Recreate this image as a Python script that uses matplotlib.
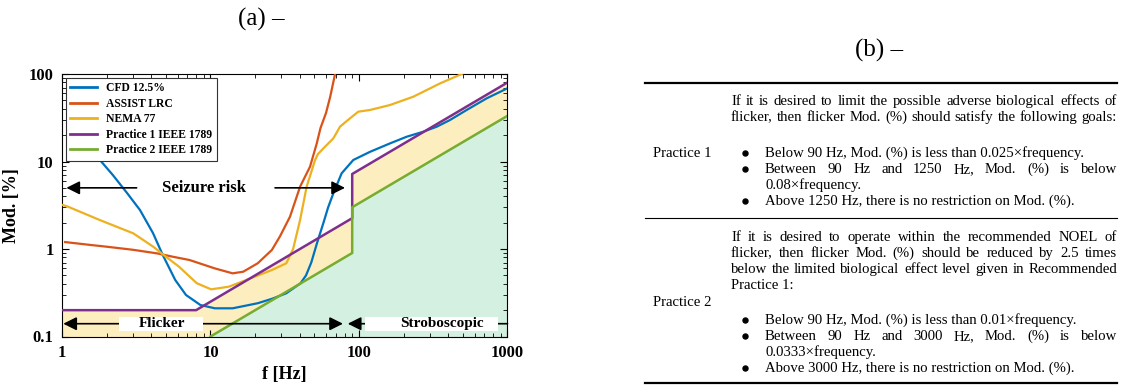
import matplotlib.pyplot as plt
from matplotlib.patches import Rectangle
from matplotlib.lines import Line2D
from matplotlib.ticker import NullFormatter

plt.rcParams['font.family'] = ['Liberation Serif', 'DejaVu Serif']

# measured modulation thresholds vs. frequency (Hz, Mod. %)
cfd_f = [1.25, 1.5, 1.8, 2.2, 2.74, 3.35, 4.1, 4.77, 5.79, 6.84, 8.55, 10.7, 14.1,
         20.8, 26, 32.4, 40.4, 44, 47.7, 52, 57.5, 62, 67.2, 76.4, 91.5, 118.6, 161.7,
         209.6, 271, 334, 410, 531, 724, 1000]
cfd_mod = [26, 14.3, 10.4, 7.0, 4.37, 2.79, 1.52, 0.853, 0.442, 0.298, 0.229, 0.21, 0.21,
           0.24, 0.27, 0.312, 0.406, 0.5, 0.7, 1.15, 1.97, 3.0, 4.33, 7.33, 10.4, 12.9, 16.1,
           19.2, 21.9, 25, 29.8, 38.8, 52.7, 68.7]

assist_f = [1.05, 1.5, 2.02, 3.0, 4.39, 5.5, 7.23, 10.7, 14.1, 16.6, 20.8, 25.9, 29.4,
            34.3, 40.1, 46.8, 51.9, 55, 60, 64, 69, 72]
assist_mod = [1.2, 1.12, 1.06, 0.98, 0.89, 0.82, 0.748, 0.60, 0.527, 0.55, 0.687, 0.975, 1.4,
              2.34, 5.15, 8.73, 16, 24, 36, 55, 100, 125]

nema_f = [1.0, 1.1, 1.8, 3.02, 4.12, 4.77, 6.12, 8.09, 10.1, 13.3, 18.6, 25.9, 32.4, 36,
          40.1, 44.4, 50.6, 53, 57.5, 67.2, 74.5, 82.6, 98.9, 118.6, 161.7, 232, 351, 492, 560]
nema_mod = [3.2, 3.04, 2.14, 1.51, 1.06, 0.87, 0.63, 0.406, 0.346, 0.371, 0.462, 0.575, 0.687, 1.0,
            2.14, 5.15, 10.4, 12.2, 14.1, 18.4, 25, 29, 37.1, 38.8, 44.2, 55, 78, 100, 115]

# IEEE 1789 recommended practices
p1_f = [1, 8, 90, 90, 1000]
p1_mod = [0.2, 0.2, 2.25, 7.2, 80]
p2_f = [10, 90, 90, 1000]
p2_mod = [0.1, 0.9, 3.0, 33.3]

labels = ['CFD 12.5%', 'ASSIST LRC', 'NEMA 77', 'Practice 1 IEEE 1789', 'Practice 2 IEEE 1789']
colors = ['#0072BD', '#D95319', '#EDB120', '#7E2F8E', '#77AC30']

W, H = 1123, 385
fig = plt.figure(figsize=(W / 100, H / 100), dpi=100)


def fx(x):
    return x / W


def fy(y):
    return 1 - y / H


ax = fig.add_axes([fx(62), fy(336.5), (507.5 - 62) / W, (336.5 - 74) / H])
ax.set_xscale('log')
ax.set_yscale('log')
ax.set_xlim(1, 1000)
ax.set_ylim(0.1, 100)

ax.fill_between(p1_f, p1_mod, 0.1, color='#FDEEC0', lw=0, zorder=1)
ax.fill_between(p2_f, p2_mod, 0.1, color='#D3F0E0', lw=0, zorder=1)

ax.plot(cfd_f, cfd_mod, color=colors[0], lw=1.6, label=labels[0], zorder=3)
ax.plot(assist_f, assist_mod, color=colors[1], lw=1.6, label=labels[1], zorder=3)
ax.plot(nema_f, nema_mod, color=colors[2], lw=1.6, label=labels[2], zorder=3)
ax.plot(p1_f, p1_mod, color=colors[3], lw=1.8, label=labels[3], zorder=4)
ax.plot(p2_f, p2_mod, color=colors[4], lw=1.8, label=labels[4], zorder=4)

# seizure risk arrows
arrow = dict(arrowstyle='-|>', color='k', lw=1.2, mutation_scale=20, shrinkA=0, shrinkB=0)
ax.annotate('', xy=(1.07, 5.0), xytext=(3.18, 5.0), arrowprops=arrow, zorder=5)
ax.annotate('', xy=(80.5, 5.0), xytext=(27.2, 5.0), arrowprops=arrow, zorder=5)
ax.text(9.0, 5.0, 'Seizure risk', fontsize=12, fontweight='bold', ha='center', va='center')

# flicker / stroboscopic ranges
ax.annotate('', xy=(1.02, 0.14), xytext=(78, 0.14),
            arrowprops=dict(arrowstyle='<|-|>', color='k', lw=1.2, mutation_scale=20,
                            shrinkA=0, shrinkB=0), zorder=5)
ax.annotate('', xy=(84, 0.14), xytext=(1000, 0.14), arrowprops=arrow, zorder=5)
ax.add_patch(Rectangle((2.42, 0.116), 8.9 - 2.42, 0.167 - 0.116, fc='white', ec='none', zorder=6))
ax.add_patch(Rectangle((109.7, 0.116), 863 - 109.7, 0.167 - 0.116, fc='white', ec='none', zorder=6))
ax.text(4.7, 0.14, 'Flicker', fontsize=11, fontweight='bold', ha='center', va='center', zorder=7)
ax.text(360, 0.14, 'Stroboscopic', fontsize=11, fontweight='bold', ha='center', va='center', zorder=7)

ax.set_xticks([1, 10, 100, 1000], ['1', '10', '100', '1000'])
ax.set_yticks([0.1, 1, 10, 100], ['0.1', '1', '10', '100'])
ax.xaxis.set_minor_formatter(NullFormatter())
ax.yaxis.set_minor_formatter(NullFormatter())
ax.tick_params(which='both', direction='in', top=True, right=True, labelsize=12, pad=6)
ax.tick_params(which='major', length=5)
ax.tick_params(which='minor', length=3)
for lab in ax.get_xticklabels() + ax.get_yticklabels():
    lab.set_fontweight('bold')
ax.set_xlabel('f [Hz]', fontsize=13, fontweight='bold', labelpad=4)
ax.set_ylabel('Mod. [%]', fontsize=13, fontweight='bold', labelpad=6)

leg = ax.legend(loc='upper left', prop=dict(weight='bold', size=8.4), fancybox=False,
                edgecolor='#333333', framealpha=1, borderaxespad=0.3,
                handlelength=2.3, labelspacing=0.3)
leg.get_frame().set_linewidth(0.8)
for h in leg.get_lines():
    h.set_linewidth(2)

fig.text(fx(261), fy(19), '(a) \u2013', fontsize=18, ha='center', va='center')
fig.text(fx(879), fy(50), '(b) \u2013', fontsize=18, ha='center', va='center')

# table of recommended practices
renderer = fig.canvas.get_renderer()
FS = 10.6
BASE = 4  # baseline sits this many pixels below the line centre


def put_line(x0, x1, y, line, justify=False):
    if not justify:
        fig.text(fx(x0), fy(y + BASE), line, fontsize=FS, va='baseline')
        return
    words = line.split()
    objs = [fig.text(0, fy(y + BASE), w, fontsize=FS, va='baseline') for w in words]
    widths = [o.get_window_extent(renderer).width for o in objs]
    gap = (x1 - x0 - sum(widths)) / (len(words) - 1)
    x = x0
    for o, w in zip(objs, widths):
        o.set_x(fx(x))
        x += w + gap


def bullet(y):
    fig.add_artist(Line2D([fx(745)], [fy(y)], marker='o', ms=3.6, color='k', lw=0))


for y, lw in [(83, 1.6), (218, 0.8), (383, 1.6)]:
    fig.add_artist(Line2D([fx(645), fx(1117)], [fy(y), fy(y)], color='k', lw=lw))

x0, xb, x1 = 731, 765, 1117
fig.text(fx(682), fy(153 + BASE), 'Practice 1', fontsize=FS, ha='center', va='baseline')
put_line(x0, x1, 101, 'If it is desired to limit the possible adverse biological effects of', True)
put_line(x0, x1, 117, 'flicker, then flicker Mod. (%) should satisfy the following goals:', True)
bullet(153)
put_line(xb, x1, 153, 'Below 90 Hz, Mod. (%) is less than 0.025\u00d7frequency.')
bullet(169)
put_line(xb, x1, 169, 'Between 90 Hz and 1250 Hz, Mod. (%) is below', True)
put_line(xb, x1, 185, '0.08\u00d7frequency.')
bullet(201)
put_line(xb, x1, 201, 'Above 1250 Hz, there is no restriction on Mod. (%).')

fig.text(fx(682), fy(302 + BASE), 'Practice 2', fontsize=FS, ha='center', va='baseline')
put_line(x0, x1, 237, 'If it is desired to operate within the recommended NOEL of', True)
put_line(x0, x1, 253, 'flicker, then flicker Mod. (%) should be reduced by 2.5 times', True)
put_line(x0, x1, 269, 'below the limited biological effect level given in Recommended', True)
put_line(x0, x1, 285, 'Practice 1:')
bullet(320)
put_line(xb, x1, 320, 'Below 90 Hz, Mod. (%) is less than 0.01\u00d7frequency.')
bullet(336)
put_line(xb, x1, 336, 'Between 90 Hz and 3000 Hz, Mod. (%) is below', True)
put_line(xb, x1, 352, '0.0333\u00d7frequency.')
bullet(368)
put_line(xb, x1, 368, 'Above 3000 Hz, there is no restriction on Mod. (%).')

fig.savefig('out.png', dpi=100)
